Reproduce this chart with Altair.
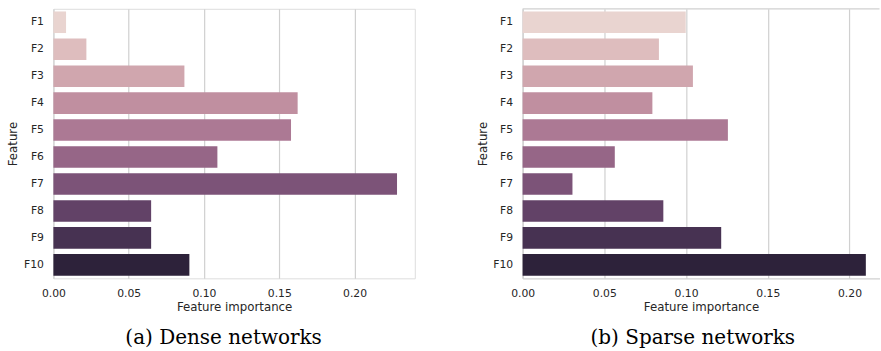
import colorsys

import numpy as np
import pandas as pd
import altair as alt

# Feature importances for the two network types
features = ["F1", "F2", "F3", "F4", "F5", "F6", "F7", "F8", "F9", "F10"]
dense_importance = [0.0084, 0.0219, 0.0870, 0.1622, 0.1578, 0.1089, 0.2282, 0.0649, 0.0649, 0.0903]
sparse_importance = [0.0998, 0.0834, 0.1042, 0.0794, 0.1256, 0.0564, 0.0305, 0.0861, 0.1215, 0.2100]
x_ticks = [0.0, 0.05, 0.10, 0.15, 0.20]
captions = ["(a) Dense networks", "(b) Sparse networks"]

TEXT = "#262626"
EDGE = "#d0d0d0"
PLOT_H = 270


def cubehelix_palette(n, start=0.0, rot=0.4, gamma=1.0, hue=0.8,
                      light=0.85, dark=0.15, saturation=0.75):
    """Seaborn-style cubehelix palette, desaturated like barplot does."""
    coeffs = {"r": (-0.14861, 1.78277), "g": (-0.29227, -0.90649), "b": (1.97294, 0.0)}
    colors = []
    for x in np.linspace(light, dark, n):
        t = min(int(x * 256), 255) / 255.0
        tg = t ** gamma
        a = hue * tg * (1 - tg) / 2
        phi = 2 * np.pi * (start / 3 + rot * t)
        rgb = [float(np.clip(tg + a * (p0 * np.cos(phi) + p1 * np.sin(phi)), 0, 1))
               for p0, p1 in coeffs.values()]
        h, l, s = colorsys.rgb_to_hls(*rgb)
        r, g, b = colorsys.hls_to_rgb(h, l, s * saturation)
        colors.append("#{:02x}{:02x}{:02x}".format(round(r * 255), round(g * 255), round(b * 255)))
    return colors


palette = cubehelix_palette(len(features))


def panel(values, caption, width, x_max, framed):
    df = pd.DataFrame({"Feature": features, "importance": values})
    bars = alt.Chart(df).mark_bar().encode(
        x=alt.X(
            "importance:Q",
            scale=alt.Scale(domain=[0, x_max], nice=False, zero=True),
            axis=alt.Axis(
                values=x_ticks, format=".2f", ticks=False, labelPadding=9.5,
                labelFlush=False,
                domain=not framed, domainColor=EDGE, domainWidth=1.2,
                grid=True, gridColor=EDGE, gridWidth=1.2,
                labelFont="DejaVu Sans", labelFontSize=10.8, labelColor=TEXT,
                title="Feature importance", titleFont="DejaVu Sans",
                titleFontSize=11.8, titleFontWeight="normal", titleColor=TEXT,
                titlePadding=3,
            ),
        ),
        y=alt.Y(
            "Feature:N", sort=features,
            scale=alt.Scale(paddingInner=0.2, paddingOuter=0.1),
            axis=alt.Axis(
                ticks=False, labelPadding=10, grid=False,
                domain=not framed, domainColor=EDGE, domainWidth=1.2,
                labelFont="DejaVu Sans", labelFontSize=10.8, labelColor=TEXT,
                title="Feature", titleFont="DejaVu Sans", titleFontSize=11.8,
                titleFontWeight="normal", titleColor=TEXT,
                titleX=-40.5, titleY=PLOT_H / 2, titleAngle=270,
                titleAlign="center", titleBaseline="middle",
            ),
        ),
        color=alt.Color("Feature:N", scale=alt.Scale(domain=features, range=palette), legend=None),
    )

    label = alt.Chart(pd.DataFrame({"caption": [caption]})).mark_text(
        font="DejaVu Serif", fontSize=20, align="center", baseline="alphabetic", color="black"
    ).encode(x=alt.value(170.5), y=alt.value(336), text="caption:N")

    layers = [bars, label]
    if not framed:
        # top edge of the frame; the right edge lies past the figure border
        top = alt.Chart(pd.DataFrame({"k": [0]})).mark_rule(color=EDGE, strokeWidth=1.2).encode(
            x=alt.value(0), x2=alt.value(width), y=alt.value(0)
        )
        layers.append(top)

    chart = alt.layer(*layers).properties(width=width, height=PLOT_H)
    if not framed:
        chart = chart.properties(view=alt.ViewBackground(stroke="transparent"))
    return chart


left = panel(dense_importance, captions[0], 362, 0.2400, framed=True)
right = panel(sparse_importance, captions[1], 357.5, 0.21836, framed=False)

chart = (
    alt.hconcat(left, right, spacing=108, bounds="flush")
    .properties(padding={"left": 7.5, "top": 6.5, "right": 0, "bottom": 0})
    .configure_view(stroke=EDGE, strokeWidth=1.2)
    .configure(background="white")
)

chart.save("out.html", embed_options={"renderer": "svg", "actions": False})
